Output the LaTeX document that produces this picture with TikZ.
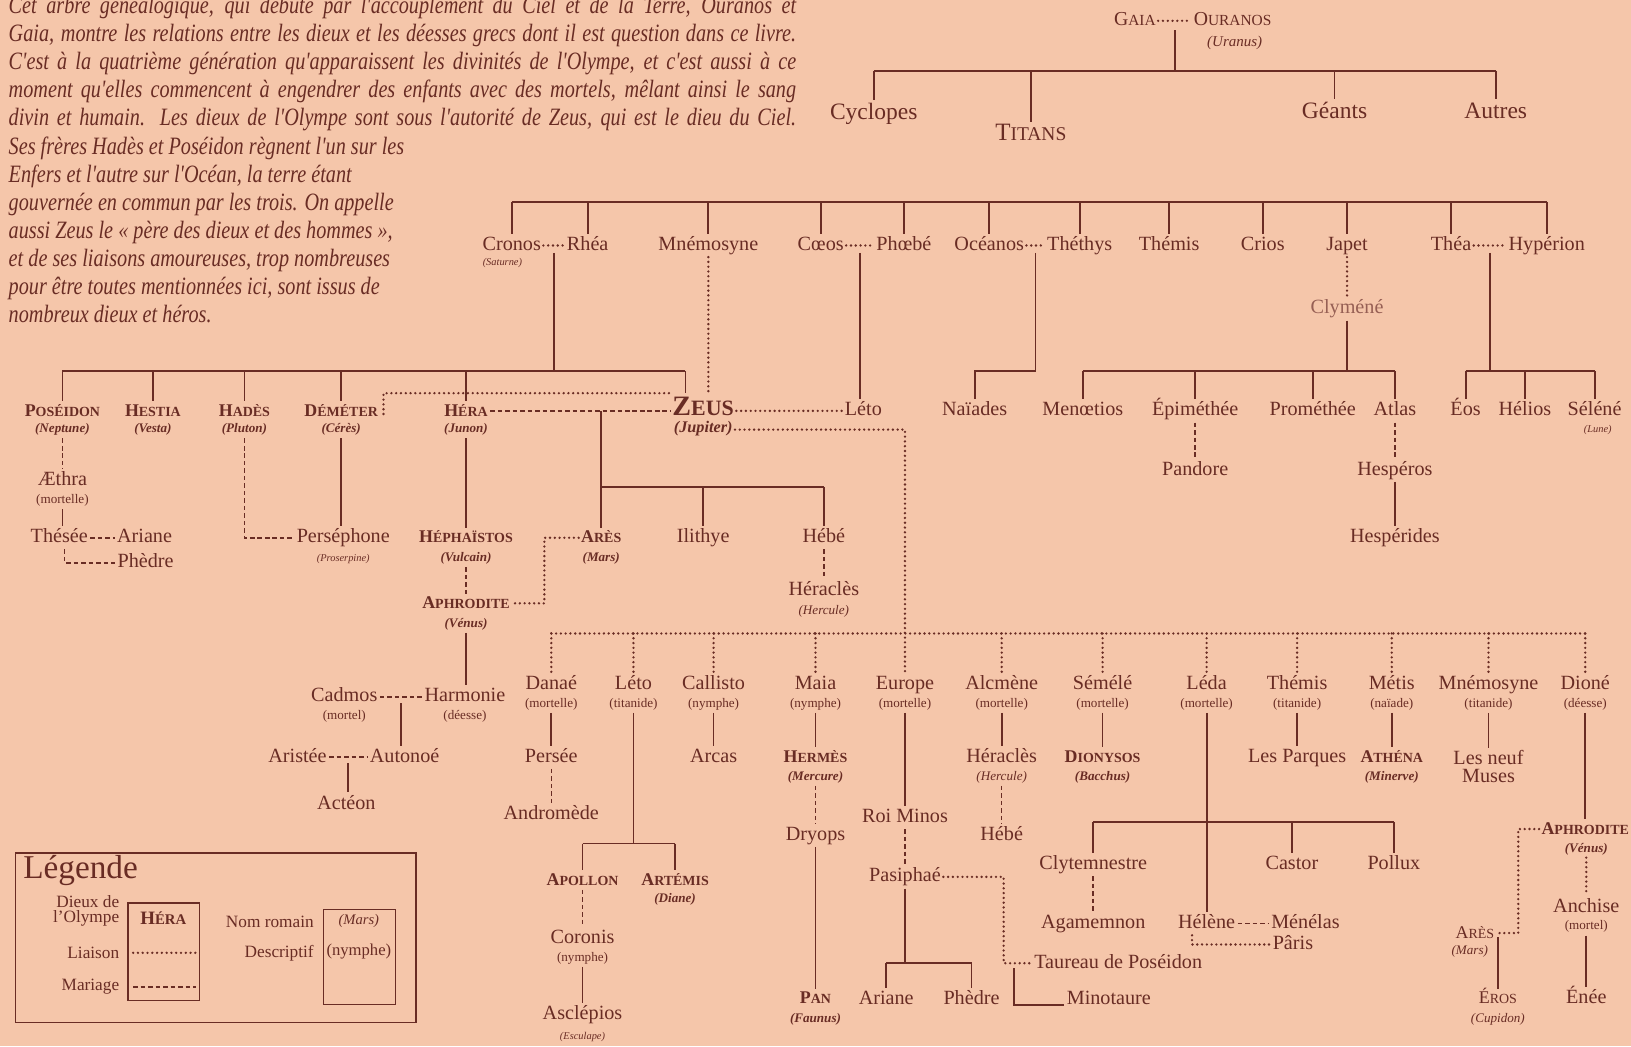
\documentclass[tikz,border=0pt]{standalone}
\usepackage{fontspec}
\setmainfont{Liberation Serif}
\newfontfamily\introfont[FakeStretch=0.81]{Liberation Serif}
\usetikzlibrary{calc}
\definecolor{bg}{RGB}{245,198,170}
\definecolor{ink}{RGB}{105,44,36}
\definecolor{inklight}{RGB}{150,95,84}
% capital followed by reduced capitals
\newcommand\capsm[2]{#1\scalebox{0.78}{#2}}
% a justified line of the introduction
\newcommand\jline[1]{\makebox[378.5pt][s]{#1}}

\tikzset{
  every node/.style={text=ink, inner sep=1pt},
  tname/.style={font=\fontsize{9.7}{11}\selectfont, text height=6.8pt, text depth=2pt},
  tnamefree/.style={font=\fontsize{9.7}{9}\selectfont},
  ttop/.style={font=\fontsize{11.3}{13}\selectfont, text height=7.8pt, text depth=2.3pt},
  tdesc/.style={font=\fontsize{6.3}{7}\selectfont, text height=4.5pt, text depth=1.5pt},
  tgod/.style={font=\fontsize{8.6}{10}\selectfont\bfseries, text height=6pt, text depth=1pt},
  tgodr/.style={font=\fontsize{8.6}{10}\selectfont, text height=6pt, text depth=1pt},
  tromb/.style={font=\fontsize{6.3}{7}\selectfont\bfseries\itshape, text height=4.6pt, text depth=1.5pt},
  tromi/.style={font=\fontsize{6.3}{7}\selectfont\itshape, text height=4.6pt, text depth=1.5pt},
  tleg/.style={font=\fontsize{8.3}{7.2}\selectfont},
  kin/.style={draw=ink, line width=0.85pt},
  liaison/.style={draw=ink, line width=1.25pt, line cap=round, dash pattern=on 0pt off 2.3pt},
  mariage/.style={draw=ink, line width=0.75pt, dash pattern=on 2.2pt off 1.4pt},
  frame/.style={draw=ink, line width=0.6pt}
}

\begin{document}
\begin{tikzpicture}[x=0.5pt, y=-0.5pt]
\useasboundingbox (0,0) rectangle (1568,1006);
\fill[bg] (0,0) rectangle (1568,1006);
\clip (0,0) rectangle (1568,1006);

% ---------- introduction ----------
\node[anchor=north west, inner sep=0pt, align=left,
      font=\introfont\itshape\fontsize{12}{13.5}\selectfont] (intro) at (8,-4) {%
\jline{Cet arbre généalogique, qui débute par l'accouplement du Ciel et de la Terre, Ouranos et}\\
\jline{Gaia, montre les relations entre les dieux et les déesses grecs dont il est question dans ce livre.}\\
\jline{C'est à la quatrième génération qu'apparaissent les divinités de l'Olympe, et c'est aussi à ce}\\
\jline{moment qu'elles commencent à engendrer des enfants avec des mortels, mêlant ainsi le sang}\\
\jline{divin et humain. Les dieux de l'Olympe sont sous l'autorité de Zeus, qui est le dieu du Ciel.}\\
Ses frères Hadès et Poséidon règnent l'un sur les\\
Enfers et l'autre sur l'Océan, la terre étant\\
gouvernée en commun par les trois. On appelle\\
aussi Zeus le «~père des dieux et des hommes~»,\\
et de ses liaisons amoureuses, trop nombreuses\\
pour être toutes mentionnées ici, sont issus de\\
nombreux dieux et héros.};

% ---------- Gaia and Ouranos ----------
\node[tname, font=\fontsize{9.5}{11}\selectfont] (gaia) at (1091,20) {\capsm{G}{AIA}};
\node[tname, font=\fontsize{9.5}{11}\selectfont] (ouranos) at (1185,20) {\capsm{O}{URANOS}};
\node[tromi, font=\fontsize{7.2}{8}\selectfont\itshape] (uranus) at (1187,42) {(Uranus)};
\draw[liaison] (gaia) -- coordinate (go) (ouranos);

\node[ttop] (cyclopes) at (840,109) {Cyclopes};
\node[ttop, font=\fontsize{12}{14}\selectfont] (titans) at (991,130) {\capsm{T}{ITANS}};
\node[ttop] (geants) at (1283,108) {Géants};
\node[ttop] (autres) at (1438,108) {Autres};

\coordinate (barT) at (0,68);
\draw[kin] ($(go)+(0,9)$) -- (go |- barT);
\draw[kin] (cyclopes.north |- barT) -- (autres.north |- barT);
\foreach \n in {cyclopes,titans,geants,autres}
  \draw[kin] (\n.north |- barT) -- (\n.north);

% ---------- Titans ----------
\node[tname] (cronos) at (492,236) {Cronos};
\node[tromi, font=\fontsize{5}{6}\selectfont\itshape] (saturne) at (483,252) {(Saturne)};
\node[tname] (rhea) at (565,236) {Rhéa};
\node[tname] (mnemo) at (681,236) {Mnémosyne};
\node[tname] (coeos) at (789,236) {Cœos};
\node[tname] (phoebe) at (869,236) {Phœbé};
\node[tname] (oceanos) at (951,236) {Océanos};
\node[tname] (thethys) at (1038,236) {Théthys};
\node[tname] (themisA) at (1124,236) {Thémis};
\node[tname] (crios) at (1214,236) {Crios};
\node[tname] (japet) at (1295,236) {Japet};
\node[tname] (thea) at (1395,236) {Théa};
\node[tname] (hyperion) at (1487,236) {Hypérion};

\coordinate (barU) at (0,194);
\draw[kin] (cronos.north |- barU) -- (hyperion.north |- barU);
\foreach \n in {cronos,rhea,mnemo,coeos,phoebe,oceanos,thethys,themisA,crios,japet,thea,hyperion}
  \draw[kin] (\n.north |- barU) -- (\n.north);

\draw[liaison] (cronos) -- coordinate (cr) (rhea);
\draw[liaison] (coeos) -- coordinate (cp) (phoebe);
\draw[liaison] (oceanos) -- coordinate (ot) (thethys);
\draw[liaison] (thea) -- coordinate (th) (hyperion);

% ---------- third generation ----------
\node[tgod] (poseidon) at (60,395) {\capsm{P}{OSÉIDON}};
\node[tromb] (neptune) at (60,413) {(Neptune)};
\node[tgod] (hestia) at (147,395) {\capsm{H}{ESTIA}};
\node[tromb] (vesta) at (147,413) {(Vesta)};
\node[tgod] (hades) at (235,395) {\capsm{H}{ADÈS}};
\node[tromb] (pluton) at (235,413) {(Pluton)};
\node[tgod] (demeter) at (328,395) {\capsm{D}{ÉMÉTER}};
\node[tromb] (ceres) at (328,413) {(Cérès)};
\node[tgod] (hera) at (448,395) {\capsm{H}{ÉRA}};
\node[tromb] (junon) at (448,413) {(Junon)};
\node[tgod, font=\fontsize{13.5}{15}\selectfont\bfseries, text height=9.5pt, text depth=0.5pt] (zeus) at (676,390) {\capsm{Z}{EUS}};
\node[tromb, font=\fontsize{7.8}{9}\selectfont\bfseries\itshape] (jupiter) at (676,413) {(Jupiter)};
\node[tname] (letoA) at (830,395) {Léto};
\node[tname] (naiades) at (937,395) {Naïades};
\node[tname] (menoetios) at (1041,395) {Menœtios};
\node[tname] (epimethee) at (1149,395) {Épiméthée};
\node[tname] (promethee) at (1262,395) {Prométhée};
\node[tname] (atlas) at (1341,395) {Atlas};
\node[tname] (eos) at (1409,395) {Éos};
\node[tname] (helios) at (1466,395) {Hélios};
\node[tname] (selene) at (1533,395) {Séléné};
\node[tromi, font=\fontsize{5}{6}\selectfont\itshape] (lune) at (1536,413) {(Lune)};
\node[tname, text=inklight] (clymene) at (1295,297) {Clyméné};
\node[tname] (pandore) at (1149,452) {Pandore};
\node[tname] (hesperos) at (1341,452) {Hespéros};
\node[tname] (hesperides) at (1341,517) {Hespérides};

% children of Cronos and Rhea
\coordinate (barC) at (0,357);
\coordinate (zd) at ($(zeus.north)+(-17,0)$);
\draw[kin] ($(cr)+(0,7)$) -- (cr |- barC);
\draw[kin] (poseidon.north |- barC) -- (zd |- barC);
\foreach \n in {poseidon,hestia,hades,demeter,hera}
  \draw[kin] (\n.north |- barC) -- (\n.north);
\draw[kin] (zd |- barC) -- (zd);
\draw[liaison] (mnemo.south) -- (mnemo.south |- zeus.north);

% Coeos and Phoebe, Oceanos and Thethys
\draw[kin] ($(cp)+(0,7)$) -- (cp |- letoA.north);
\draw[kin] ($(ot)+(0,7)$) -- (ot |- barC) -| (naiades.north);

% Japet
\draw[liaison] (japet.south) -- (clymene.north);
\draw[kin] (clymene.south) -- (clymene.south |- barC);
\draw[kin] (menoetios.north |- barC) -- (atlas.north |- barC);
\foreach \n in {menoetios,epimethee,promethee,atlas}
  \draw[kin] (\n.north |- barC) -- (\n.north);
\draw[mariage] (epimethee.south) -- (pandore.north);
\draw[mariage] (atlas.south) -- (hesperos.north);
\draw[kin] (hesperos.south) -- (hesperides.north);

% Thea and Hyperion
\draw[kin] ($(th)+(0,7)$) -- (th |- barC);
\draw[kin] (eos.north |- barC) -- (selene.north |- barC);
\foreach \n in {eos,helios,selene}
  \draw[kin] (\n.north |- barC) -- (\n.north);

% ---------- Poseidon, Hades, Demeter ----------
\node[tname] (aethra) at (60,462) {Æthra};
\node[tdesc] (aethraD) at (60,481) {(mortelle)};
\node[tname] (thesee) at (57,517) {Thésée};
\node[tname] (arianeA) at (139,517) {Ariane};
\node[tname] (phedreA) at (140,541) {Phèdre};
\draw[mariage] (neptune.south) -- (aethra.north);
\draw[kin] (aethraD.south) -- (aethraD.south |- thesee.north);
\draw[mariage] (thesee) -- (arianeA);
\draw[mariage] ($(thesee.south)+(5,0)$) |- (phedreA.west);

\node[tname] (persephone) at (330,517) {Perséphone};
\node[tromi, font=\fontsize{5}{6}\selectfont\itshape] (proserpine) at (330,537) {(Proserpine)};
\draw[mariage] (pluton.south) |- (persephone.west);
\draw[kin] (ceres.south) -- (ceres.south |- persephone.north);
\draw[liaison] ($(demeter.east)+(3,3)$) |- (zeus.west |- 0,378);

% ---------- Hera and Zeus ----------
\node[tgod] (ares) at (578,517) {\capsm{A}{RÈS}};
\node[tromb] (marsA) at (578,537) {(Mars)};
\node[tname] (ilithye) at (676,517) {Ilithye};
\node[tname] (hebeA) at (792,517) {Hébé};
\node[tname] (heraclesA) at (792,568) {Héraclès};
\node[tromi] (herculeA) at (792,588) {(Hercule)};
\node[tgod] (hephaistos) at (448,517) {\capsm{H}{ÉPHAÏSTOS}};
\node[tromb] (vulcain) at (448,537) {(Vulcain)};
\node[tgod] (aphroA) at (448,580) {\capsm{A}{PHRODITE}};
\node[tromb] (venusA) at (448,600) {(Vénus)};

\draw[mariage] (hera.east) -- (hera.east -| zeus.west);
\draw[liaison] (zeus.east |- letoA) -- (letoA.west);
\coordinate (barH) at (0,468);
\draw[kin] (hera.east -| ares) -- (ares.north);
\draw[kin] (ares.north |- barH) -- (hebeA.north |- barH);
\foreach \n in {ilithye,hebeA}
  \draw[kin] (\n.north |- barH) -- (\n.north);
\draw[mariage] (hebeA.south) -- (heraclesA.north);
\draw[kin] (junon.south) -- (hephaistos.north);
\draw[mariage] (vulcain.south) -- (aphroA.north);
\draw[liaison] (ares.west) -- ++(-33,0) |- (aphroA.east);

% Aphrodite's line
\node[tname] (harmonie) at (447,670) {Harmonie};
\node[tdesc] (harmonieD) at (447,689) {(déesse)};
\node[tname] (cadmos) at (331,670) {Cadmos};
\node[tdesc] (cadmosD) at (331,689) {(mortel)};
\node[tname] (autonoe) at (389,728) {Autonoé};
\node[tname] (aristee) at (286,728) {Aristée};
\node[tname] (acteon) at (333,773) {Actéon};
\draw[kin] (venusA.south) -- (venusA.south |- harmonie.north);
\draw[mariage] (cadmos) -- coordinate (chm) (harmonie);
\draw[kin] ($(chm)+(0,6)$) -- (chm |- autonoe.north);
\draw[mariage] (aristee) -- coordinate (aam) (autonoe);
\draw[kin] ($(aam)+(0,6)$) -- (aam |- acteon.north);

% ---------- Zeus' partners ----------
\node[tname] (danae) at (530,658) {Danaé};
\node[tdesc] (danaeD) at (530,677) {(mortelle)};
\node[tname] (letoB) at (609,658) {Léto};
\node[tdesc] (letoBD) at (609,677) {(titanide)};
\node[tname] (callisto) at (686,658) {Callisto};
\node[tdesc] (callistoD) at (686,677) {(nymphe)};
\node[tname] (maia) at (784,658) {Maia};
\node[tdesc] (maiaD) at (784,677) {(nymphe)};
\node[tname] (europe) at (870,658) {Europe};
\node[tdesc] (europeD) at (870,677) {(mortelle)};
\node[tname] (alcmene) at (963,658) {Alcmène};
\node[tdesc] (alcmeneD) at (963,677) {(mortelle)};
\node[tname] (semele) at (1060,658) {Sémélé};
\node[tdesc] (semeleD) at (1060,677) {(mortelle)};
\node[tname] (leda) at (1160,658) {Léda};
\node[tdesc] (ledaD) at (1160,677) {(mortelle)};
\node[tname] (themisB) at (1247,658) {Thémis};
\node[tdesc] (themisBD) at (1247,677) {(titanide)};
\node[tname] (metis) at (1338,658) {Métis};
\node[tdesc] (metisD) at (1338,677) {(naïade)};
\node[tname] (mnemoB) at (1431,658) {Mnémosyne};
\node[tdesc] (mnemoBD) at (1431,677) {(titanide)};
\node[tname] (dione) at (1524,658) {Dioné};
\node[tdesc] (dioneD) at (1524,677) {(déesse)};

\coordinate (barZ) at (0,609);
\draw[liaison] (jupiter.east) -| (europe.north);
\draw[liaison] (danae.north |- barZ) -- (dione.north |- barZ);
\foreach \n in {danae,letoB,callisto,maia,alcmene,semele,leda,themisB,metis,mnemoB,dione}
  \draw[liaison] (\n.north |- barZ) -- (\n.north);

% Danae, Leto, Callisto
\node[tname] (persee) at (530,728) {Persée};
\node[tname] (andromede) at (530,783) {Andromède};
\draw[kin] (danaeD.south) -- (persee.north);
\draw[mariage] (persee.south) -- (andromede.north);

\node[tgod] (apollon) at (560,846) {\capsm{A}{POLLON}};
\node[tgod] (artemis) at (649,846) {\capsm{A}{RTÉMIS}};
\node[tromb] (diane) at (649,865) {(Diane)};
\node[tname] (coronis) at (560,902) {Coronis};
\node[tdesc] (coronisD) at (560,921) {(nymphe)};
\node[tname] (asclepios) at (560,975) {Asclépios};
\node[tromi, font=\fontsize{5}{6}\selectfont\itshape] (esculape) at (560,996) {(Esculape)};
\coordinate (barA) at (0,811);
\draw[kin] (letoBD.south) -- (letoBD.south |- barA);
\draw[kin] (apollon.north |- barA) -- (artemis.north |- barA);
\foreach \n in {apollon,artemis}
  \draw[kin] (\n.north |- barA) -- (\n.north);
\draw[mariage] (apollon.south) -- (coronis.north);
\draw[kin] (coronisD.south) -- (asclepios.north);

\node[tname] (arcas) at (686,728) {Arcas};
\draw[kin] (callistoD.south) -- (arcas.north);

% Maia
\node[tgod] (hermes) at (784,728) {\capsm{H}{ERMÈS}};
\node[tromb] (mercure) at (784,747) {(Mercure)};
\node[tname] (dryops) at (784,803) {Dryops};
\node[tgod] (pan) at (784,960) {\capsm{P}{AN}};
\node[tromb] (faunus) at (784,980) {(Faunus)};
\draw[kin] (maiaD.south) -- (hermes.north);
\draw[mariage] (mercure.south) -- (dryops.north);
\draw[kin] (dryops.south) -- (pan.north);

% Europe
\node[tname] (minos) at (870,786) {Roi Minos};
\node[tname] (pasiphae) at (870,843) {Pasiphaé};
\node[tname] (arianeB) at (852,961) {Ariane};
\node[tname] (phedreB) at (934,961) {Phèdre};
\node[tname] (taureau) at (1075,926) {Taureau de Poséidon};
\node[tname] (minotaure) at (1066,961) {Minotaure};
\draw[kin] (europeD.south) -- (minos.north);
\draw[mariage] (minos.south) -- (pasiphae.north);
\draw[liaison] (pasiphae.east) -- ++(58,0) |- (taureau.west);
\coordinate (barP) at (0,926);
\draw[kin] (pasiphae.south) -- (pasiphae.south |- barP);
\draw[kin] (arianeB.north |- barP) -- (phedreB.north |- barP);
\foreach \n in {arianeB,phedreB}
  \draw[kin] (\n.north |- barP) -- (\n.north);
\draw[kin] ($(taureau.west)+(-17,5)$) |- (minotaure.base west);

% Alcmene, Semele
\node[tname] (heraclesB) at (963,728) {Héraclès};
\node[tromi] (herculeB) at (963,747) {(Hercule)};
\node[tname] (hebeB) at (963,803) {Hébé};
\draw[kin] (alcmeneD.south) -- (heraclesB.north);
\draw[mariage] (herculeB.south) -- (hebeB.north);
\node[tgod] (dionysos) at (1060,728) {\capsm{D}{IONYSOS}};
\node[tromb] (bacchus) at (1060,747) {(Bacchus)};
\draw[kin] (semeleD.south) -- (dionysos.north);

% Leda
\node[tname] (clytem) at (1051,831) {Clytemnestre};
\node[tname] (castor) at (1242,831) {Castor};
\node[tname] (pollux) at (1340,831) {Pollux};
\node[tname] (agamemnon) at (1051,888) {Agamemnon};
\node[tname] (helene) at (1160,888) {Hélène};
\node[tname] (menelas) at (1255,888) {Ménélas};
\node[tname] (paris) at (1243,908) {Pâris};
\coordinate (barL) at (0,790);
\draw[kin] (ledaD.south) -- (helene.north);
\draw[kin] (clytem.north |- barL) -- (pollux.north |- barL);
\foreach \n in {clytem,castor,pollux}
  \draw[kin] (\n.north |- barL) -- (\n.north);
\draw[mariage] (clytem.south) -- (agamemnon.north);
\draw[mariage] (helene) -- (menelas);
\draw[liaison] ($(helene.south)+(-14,0)$) |- (paris.west);

% Themis, Metis, Mnemosyne
\node[tname] (parques) at (1247,728) {Les Parques};
\draw[kin] (themisBD.south) -- (parques.north);
\node[tgod] (athena) at (1338,728) {\capsm{A}{THÉNA}};
\node[tromb] (minerve) at (1338,747) {(Minerve)};
\draw[kin] (metisD.south) -- (athena.north);
\node[tnamefree, align=center] (muses) at (1431,737) {Les neuf\\Muses};
\draw[kin] (mnemoBD.south) -- (muses.north);

% Dione
\node[tgod] (aphroB) at (1524,797) {\capsm{A}{PHRODITE}};
\node[tromb] (venusB) at (1525,816) {(Vénus)};
\node[tgodr] (aresB) at (1418,897) {\capsm{A}{RÈS}};
\node[tromi] (marsB) at (1413,915) {(Mars)};
\node[tgodr] (eros) at (1440,960) {\capsm{É}{ROS}};
\node[tromi] (cupidon) at (1440,980) {(Cupidon)};
\node[tname] (anchise) at (1525,872) {Anchise};
\node[tdesc] (anchiseD) at (1525,891) {(mortel)};
\node[tname] (enee) at (1525,960) {Énée};
\draw[kin] (dioneD.south) -- (dioneD.south |- aphroB.north);
\draw[liaison] (aphroB.west) -- ++(-20,0) |- (aresB.east);
\draw[kin] ($(eros.north |- aresB.east)+(0,4)$) -- (eros.north);
\draw[liaison] (venusB.south) -- (anchise.north);
\draw[kin] (anchiseD.south) -- (enee.north);

% ---------- key ----------
\draw[frame] (15,820) rectangle (400,983);
\draw[frame] (123,868) rectangle (192,962);
\draw[frame] (311,874) rectangle (380,966);
\node[anchor=west, font=\fontsize{16}{18}\selectfont] (legtitle) at (20,837) {Légende};
\node[tleg, anchor=east, align=right] (legdieux) at (117,876) {Dieux de\\l'Olympe};
\node[tgod, font=\fontsize{9.1}{10}\selectfont\bfseries] (leghera) at (157,884) {\capsm{H}{ÉRA}};
\node[tleg, anchor=east] (legliaison) at (117,916) {Liaison};
\node[tleg, anchor=east] (legmariage) at (117,949) {Mariage};
\draw[liaison] (128,916) -- (188,916);
\draw[mariage] (128,949) -- (188,949);
\node[tleg, anchor=east] (legnom) at (304,886) {Nom romain};
\node[tromi, font=\fontsize{7}{8}\selectfont\itshape] (legmars) at (345,886) {(Mars)};
\node[tleg, anchor=east] (legdesc) at (304,916) {Descriptif};
\node[tdesc, font=\fontsize{8}{9}\selectfont] (legnymphe) at (345,916) {(nymphe)};
\end{tikzpicture}
\end{document}
